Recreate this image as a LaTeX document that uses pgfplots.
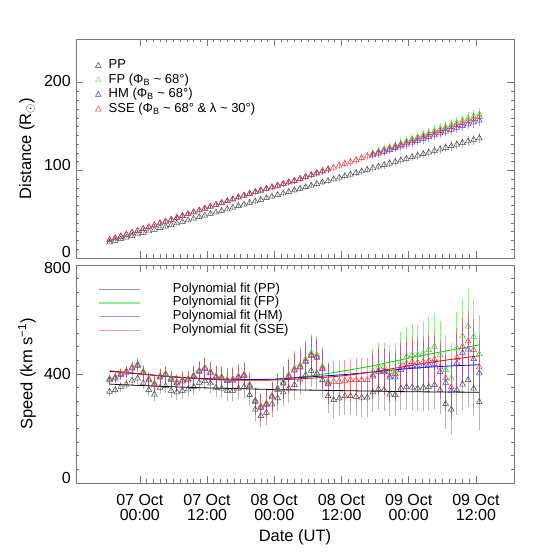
\documentclass[border=0pt]{standalone}
\usepackage{pgfplots}
\pgfplotsset{compat=1.18}
\usepackage{pgfplotstable}
\usepackage{fontspec}
\setmainfont{Liberation Sans}

\definecolor{ppc}{RGB}{70,70,70}
\definecolor{ppe}{RGB}{150,150,150}
\definecolor{fpc}{RGB}{40,220,40}
\definecolor{hmc}{RGB}{60,60,255}
\definecolor{ssc}{RGB}{255,50,50}
\definecolor{framec}{RGB}{120,120,120}
\definecolor{lgp}{RGB}{150,150,150}
\definecolor{lgf}{RGB}{140,240,140}
\definecolor{lgh}{RGB}{150,150,255}
\definecolor{lgs}{RGB}{255,150,150}

\newcommand{\sh}[2]{\raisebox{#1}[\height][\depth]{#2}}

\pgfplotstableread{
t dP dS dF dH eP eS eF vP vS vF vH wP wS wF
-5.4 18.0 20.5 20.5 20.5 0.5 0.6 0.6 335 380 383 377 15 18 18
-4.4 19.8 22.6 22.6 22.6 0.6 0.7 0.7 341 387 389 384 15 18 18
-3.4 21.6 24.7 24.7 24.7 0.7 0.8 0.8 353 400 402 397 18 20 20
-2.4 23.4 26.9 26.9 26.9 0.7 0.9 0.9 362 409 411 406 18 20 20
-1.4 25.2 29.0 29.0 29.0 0.8 0.9 1.0 376 423 425 420 20 22 22
-0.4 27.0 31.1 31.1 31.1 0.9 1.0 1.1 384 433 436 430 20 22 22
0.6 28.8 33.2 33.2 33.2 1.0 1.1 1.2 366 406 409 403 22 25 25
1.6 30.6 35.3 35.3 35.3 1.1 1.2 1.3 341 380 382 377 22 25 25
2.6 32.4 37.5 37.5 37.5 1.1 1.3 1.4 325 363 366 360 25 28 28
3.6 34.2 39.6 39.6 39.6 1.2 1.4 1.5 350 390 393 387 25 28 28
4.6 36.0 41.7 41.7 41.7 1.3 1.5 1.6 356 399 401 396 25 28 28
5.6 37.8 43.8 43.8 43.8 1.4 1.5 1.7 339 382 385 379 28 30 30
6.6 39.6 45.9 45.9 45.9 1.5 1.6 1.8 333 368 371 365 28 30 30
7.6 41.4 48.1 48.1 48.1 1.5 1.7 1.9 339 376 379 373 30 32 32
8.6 43.2 50.2 50.2 50.2 1.6 1.8 2.0 344 380 383 377 30 32 32
9.6 45.0 52.3 52.3 52.3 1.7 1.9 2.1 353 393 396 390 30 35 35
10.6 46.8 54.4 54.4 54.4 1.8 2.0 2.2 368 411 414 408 32 35 35
11.6 48.6 56.5 56.5 56.5 1.9 2.0 2.3 374 421 424 418 32 38 38
12.6 50.4 58.7 58.7 58.7 1.9 2.1 2.4 366 406 409 403 35 38 38
13.6 52.2 60.8 60.8 60.8 2.0 2.2 2.5 350 390 393 387 35 40 40
14.6 54.0 62.9 62.9 62.9 2.1 2.3 2.6 347 387 390 384 35 40 40
15.6 55.8 65.0 65.0 65.0 2.2 2.4 2.7 339 377 380 374 38 42 42
16.6 57.6 67.1 67.1 67.1 2.3 2.5 2.8 339 379 382 376 38 42 42
17.6 59.4 69.3 69.3 69.3 2.3 2.6 2.9 347 389 392 386 40 45 45
18.6 61.2 71.4 71.4 71.4 2.4 2.6 3.0 353 396 399 393 40 45 45
19.6 63.0 73.5 73.5 73.5 2.5 2.7 3.1 323 358 361 355 40 45 45
20.6 64.8 75.4 75.4 75.4 2.6 2.8 3.2 270 301 304 298 42 48 48
21.6 66.6 77.2 77.2 77.2 2.7 2.9 3.3 246 279 282 276 42 48 48
22.6 68.4 79.1 79.1 79.1 2.7 3.0 3.4 258 290 293 287 45 50 50
23.6 70.2 80.9 80.9 80.9 2.8 3.1 3.5 289 318 321 315 45 52 52
24.6 72.0 82.8 82.8 82.8 2.9 3.2 3.6 311 345 349 342 48 55 55
25.6 73.8 84.6 84.6 84.6 3.0 3.2 3.7 333 368 373 365 50 58 58
26.6 75.6 86.5 86.5 86.5 3.1 3.3 3.8 347 393 398 390 52 60 60
27.6 77.4 88.3 88.3 88.3 3.1 3.4 3.9 360 416 421 413 55 62 62
28.6 79.2 90.5 90.5 90.5 3.2 3.5 4.0 380 427 433 424 55 65 65
29.6 81.0 92.6 92.6 92.6 3.3 3.6 4.1 396 448 455 445 58 68 68
30.6 82.8 94.8 94.8 94.8 3.4 3.7 4.2 412 470 477 467 60 70 70
31.6 84.6 96.9 96.9 96.9 3.5 3.7 4.3 402 463 470 460 60 70 70
32.6 86.4 99.1 99.1 99.1 3.5 3.8 4.4 378 421 428 418 62 72 72
33.6 88.2 101.2 101.2 101.2 3.6 3.9 4.5 319 366 372 363 62 72 72
34.6 90.0 103.4 nan nan 3.7 4.0 4.6 305 372 nan nan 65 75 75
35.6 91.8 105.5 nan nan 3.8 4.1 4.7 311 372 nan nan 65 75 75
36.6 93.6 107.7 nan nan 3.9 4.2 4.8 319 375 nan nan 68 78 78
37.6 95.4 109.8 nan nan 3.9 4.3 4.9 319 378 nan nan 68 78 78
38.6 97.2 112.0 nan nan 4.0 4.3 5.0 317 378 nan nan 70 80 80
39.6 99.0 114.1 nan nan 4.1 4.4 5.1 314 378 nan nan 70 80 80
40.6 100.8 116.3 nan nan 4.2 4.5 5.2 314 378 nan nan 72 82 82
41.6 102.6 118.5 119.3 117.4 4.3 4.6 5.3 333 396 411 391 72 82 82
42.6 104.4 120.6 121.6 119.4 4.3 4.7 5.4 345 413 428 408 75 85 85
43.6 106.2 122.8 123.9 121.4 4.4 4.8 5.5 341 412 427 407 75 85 85
44.6 108.0 124.9 126.1 123.4 4.5 4.9 5.6 325 392 407 387 78 88 100
45.6 109.8 127.1 128.4 125.5 4.6 4.9 5.7 323 400 409 388 78 88 105
46.6 111.6 129.4 130.8 127.6 4.7 5.0 5.8 347 427 445 415 80 90 108
47.6 113.4 131.6 133.2 129.7 4.7 5.1 5.9 353 439 464 425 80 92 110
48.6 115.2 133.9 135.6 131.8 4.8 5.2 6.0 351 444 470 430 82 92 112
49.6 117.0 136.1 137.9 133.9 4.9 5.3 6.1 347 442 470 428 82 95 115
50.6 118.8 138.4 140.3 136.0 5.0 5.4 6.2 351 445 476 430 85 95 118
51.6 120.6 140.6 142.6 138.1 5.1 5.4 6.3 353 448 488 433 85 98 120
52.6 122.4 142.9 145.1 140.2 5.1 5.5 6.4 360 455 500 438 88 100 122
53.6 124.2 145.1 147.4 142.3 5.2 5.6 6.5 341 425 470 408 88 100 125
54.6 126.0 147.4 149.8 144.4 5.3 5.7 6.6 290 385 415 368 90 102 128
55.6 127.8 149.6 152.1 146.5 5.4 5.8 6.7 270 352 384 338 90 105 130
56.6 129.6 151.9 154.5 148.6 5.5 5.9 6.8 341 460 494 440 92 108 132
57.6 131.4 154.1 156.9 150.7 5.5 6.0 6.9 362 500 539 478 95 110 135
58.6 133.2 156.4 159.3 152.8 5.6 6.0 7.0 378 520 574 490 98 112 138
59.6 135.0 158.6 161.6 154.9 5.7 6.1 7.1 347 488 537 455 100 115 140
60.6 136.8 160.9 164.0 157.0 5.8 6.2 7.2 298 425 473 403 105 118 142
}\data

\pgfplotsset{
  base/.style={
    scale only axis, width=438pt, xmin=-11.4, xmax=66.8,
    axis line style={framec, line width=0.6pt},
    tick style={framec, line width=0.6pt},
    tick align=inside, major tick length=7pt, minor tick length=3.5pt,
    xtick={0,12,24,36,48,60}, minor x tick num=9,
    tick label style={font=\fontsize{16}{15}\selectfont},
    yticklabel style={inner sep=0pt, xshift=-5pt},
    /pgf/number format/assume math mode=true,
    every axis y label/.style={at={(axis description cs:-0.112,0.5)}, rotate=90, anchor=center,
      font=\fontsize{16.5}{18}\selectfont},
    legend cell align=left,
  },
  mk/.style={only marks, mark=triangle, mark size=3.3pt, mark options={line width=0.5pt}},
}

\begin{document}
\begin{tikzpicture}[x=1pt,y=1pt]
\path[use as bounding box] (0,0) rectangle (560,560);

% ---------------- top panel ----------------
\begin{axis}[base, at={(76pt,302pt)}, anchor=south west, height=219pt,
  ymin=0, ymax=250, ytick={0,100,200}, minor y tick num=9,
  yticklabels={\sh{6.5pt}{0},\sh{5pt}{100},\sh{2pt}{200}},
  xticklabels={},
  ylabel={Distance (R$_\odot$)},
  legend image code/.code={\draw[#1] plot coordinates {(0pt,0pt)};},
  legend style={at={(rel axis cs:0.044,0.909)}, anchor=north west, draw=none, fill=none,
    inner sep=0pt, column sep=7pt, row sep=1.6pt, font=\fontsize{13}{14}\selectfont,
    nodes={inner sep=0.5pt, text height=9pt, text depth=3pt}},
]
\addplot[ppc, mk, forget plot, error bars/.cd, y dir=both, y explicit, error mark=none,
  error bar style={ppe, line width=0.8pt, opacity=0.7}] table[x=t, y=dP, y error=eP] {\data};
\addplot[fpc, mk, forget plot, error bars/.cd, y dir=both, y explicit, error mark=none,
  error bar style={fpc, line width=0.8pt, opacity=0.5}] table[x=t, y=dF, y error=eF] {\data};
\addplot[hmc, mk, forget plot, error bars/.cd, y dir=both, y explicit, error mark=none,
  error bar style={hmc, line width=0.8pt, opacity=0.5}] table[x=t, y=dH, y error=eS] {\data};
\addplot[ssc, mk, forget plot, error bars/.cd, y dir=both, y explicit, error mark=none,
  error bar style={ssc, line width=0.8pt, opacity=0.5}] table[x=t, y=dS, y error=eS] {\data};

\addlegendimage{mk, color=ppc}
\addlegendentry{PP}
\addlegendimage{mk, color=fpc!70!white}
\addlegendentry{FP (Φ\textsubscript{B} \textasciitilde{} 68°)}
\addlegendimage{mk, color=hmc}
\addlegendentry{HM (Φ\textsubscript{B} \textasciitilde{} 68°)}
\addlegendimage{mk, color=ssc}
\addlegendentry{SSE (Φ\textsubscript{B} \textasciitilde{} 68° \& λ \textasciitilde{} 30°)}
\end{axis}

% ---------------- bottom panel ----------------
\begin{axis}[base, at={(76pt,77pt)}, anchor=south west, height=218pt,
  ymin=0, ymax=800, ytick={0,400,800}, minor y tick num=7,
  yticklabels={\sh{5pt}{0},400,\sh{-3pt}{800}},
  xticklabels={{07 Oct\\00:00},{07 Oct\\12:00},{08 Oct\\00:00},{08 Oct\\12:00},{09 Oct\\00:00},{09 Oct\\12:00}},
  xticklabel style={align=center, yshift=-8pt},
  xlabel={Date (UT)},
  every axis x label/.style={at={(axis description cs:0.5,-0.248)}, anchor=center,
    font=\fontsize{16.5}{18}\selectfont},
  ylabel={Speed (km s\textsuperscript{−1})},
  legend image code/.code={\draw[#1] (0pt,0pt) -- (41pt,0pt);},
  legend style={at={(rel axis cs:0.0502,0.9197)}, anchor=north west, draw=none, fill=none,
    inner sep=0pt, column sep=32pt, row sep=0.7pt, font=\fontsize{13}{14}\selectfont,
    nodes={inner sep=0.5pt, text height=9pt, text depth=3pt}},
]
\addplot[ppc, mk, forget plot, error bars/.cd, y dir=both, y explicit, error mark=none,
  error bar style={ppe, line width=0.9pt, opacity=0.7}] table[x=t, y=vP, y error=wP] {\data};
\addplot[fpc, mk, forget plot, error bars/.cd, y dir=both, y explicit, error mark=none,
  error bar style={fpc, line width=0.9pt, opacity=0.5}] table[x=t, y=vF, y error=wF] {\data};
\addplot[hmc, mk, forget plot, error bars/.cd, y dir=both, y explicit, error mark=none,
  error bar style={hmc, line width=0.9pt, opacity=0.5}] table[x=t, y=vH, y error=wS] {\data};
\addplot[ssc, mk, forget plot, error bars/.cd, y dir=both, y explicit, error mark=none,
  error bar style={ssc, line width=0.9pt, opacity=0.5}] table[x=t, y=vS, y error=wS] {\data};

% polynomial fits
\addplot[black, line width=0.8pt, smooth, forget plot] coordinates {
(-5.4,363) (0,358) (6,353) (12,349) (18,346) (24,343) (30,341) (36,339) (42,337) (48,335) (54,334) (60.6,333)};
\addplot[green!85!black, line width=0.8pt, smooth, forget plot] coordinates {
(-5.4,410) (0,400) (6,389) (12,382) (18,379) (24,381) (30,392) (36,410) (42,432) (48,458) (54,482) (60.6,507)};
\addplot[blue, line width=0.8pt, smooth, forget plot] coordinates {
(-5.4,410) (0,400) (6,390) (12,383) (18,380) (24,381) (30,389) (36,397) (42,408) (48,420) (54,428) (60.6,434)};
\addplot[red, line width=0.8pt, smooth, forget plot] coordinates {
(-5.4,412) (0,401) (6,389) (12,381) (18,377) (24,378) (30,384) (36,393) (42,409) (48,430) (54,449) (60.6,467)};

\addlegendimage{line width=1.3pt, color=lgp}
\addlegendentry{Polynomial fit (PP)}
\addlegendimage{line width=1.3pt, color=lgf}
\addlegendentry{Polynomial fit (FP)}
\addlegendimage{line width=1.3pt, color=lgh}
\addlegendentry{Polynomial fit (HM)}
\addlegendimage{line width=1.3pt, color=lgs}
\addlegendentry{Polynomial fit (SSE)}
\end{axis}
\end{tikzpicture}
\end{document}
